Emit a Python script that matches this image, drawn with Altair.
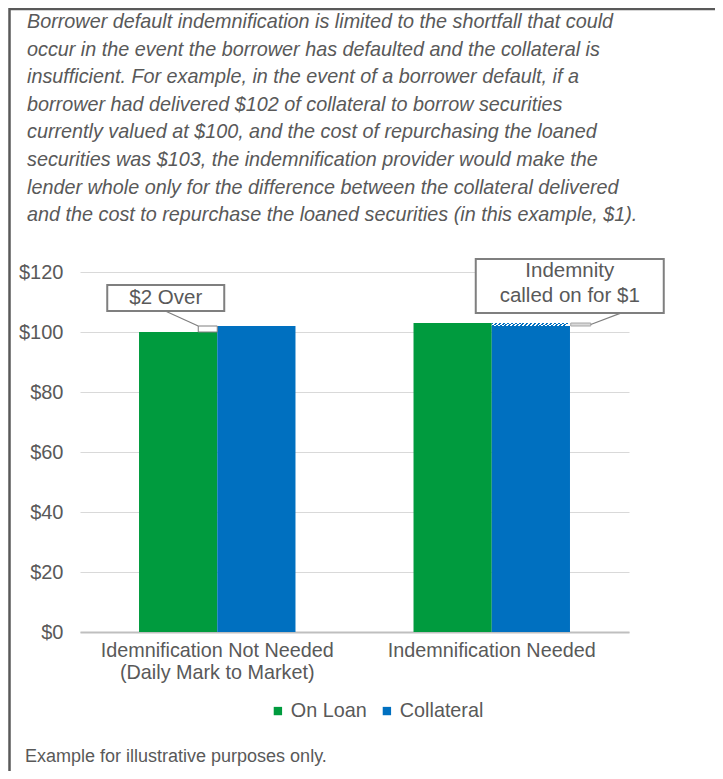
import altair as alt
import pandas as pd

# ---------------- data ----------------
categories = ["Idemnification Not Needed\n(Daily Mark to Market)", "Indemnification Needed"]
series = ["On Loan", "Collateral"]
on_loan = [100, 103]
collateral = [102, 102]
y_ticks = [0, 20, 40, 60, 80, 100, 120]

# portions highlighted by the callouts
over_cat = [categories[0]]
over_from = [100]
over_to = [102]
shortfall_cat = [categories[1]]
shortfall_from = [102]
shortfall_to = [103]

paragraph = [
    "Borrower default indemnification is limited to the shortfall that could",
    "occur in the event the borrower  has defaulted and the collateral is",
    "insufficient.  For example, in the event of a borrower default, if a",
    "borrower  had delivered $102 of collateral to borrow securities",
    "currently valued at $100, and the cost of repurchasing the loaned",
    "securities was $103, the indemnification provider would make the",
    "lender whole only for the difference between the collateral delivered",
    "and the cost to repurchase the loaned securities (in this example, $1).",
]
footer = "Example for illustrative purposes only."
callout1 = "$2 Over"
callout2 = "Indemnity\ncalled on for $1"

# ---------------- style ----------------
FONT = "Liberation Sans, Arial"
GREY = "#595959"
colors = ["#009B3E", "#0070C0"]

rows = []
for c, a, b in zip(categories, on_loan, collateral):
    rows.append({"cat": c, "series": series[0], "value": a})
    rows.append({"cat": c, "series": series[1], "value": b})
df = pd.DataFrame(rows)

xs = alt.Scale(domain=categories, paddingInner=0.43, paddingOuter=0.215)
ys = alt.Scale(domain=[0, 120], nice=False)

X = alt.X("cat:N", scale=xs, sort=categories,
          axis=alt.Axis(title=None, labelAngle=0, ticks=False, grid=False,
                        domainColor="#bfbfbf", domainWidth=2,
                        labelPadding=8, labelFont=FONT, labelFontSize=19.8,
                        labelLineHeight=22, labelColor=GREY, labelLimit=400,
                        labelExpr="split(datum.label, '\\n')"))

bars = alt.Chart(df).mark_bar().encode(
    x=X,
    xOffset=alt.XOffset("series:N", sort=series, scale=alt.Scale(domain=series, paddingInner=0, paddingOuter=0)),
    y=alt.Y("value:Q", scale=ys,
            axis=alt.Axis(title=None, values=y_ticks, format="$.0f", grid=True,
                          gridColor="#d9d9d9", gridWidth=1, domain=False, ticks=False,
                          labelPadding=17, labelFont=FONT, labelFontSize=20,
                          labelColor=GREY)),
    color=alt.Color("series:N", sort=series,
                    scale=alt.Scale(domain=series, range=colors),
                    legend=alt.Legend(orient="none", legendX=188, legendY=429,
                                      direction="horizontal", title=None,
                                      symbolType="square", symbolSize=70,
                                      symbolStrokeWidth=0, labelFont=FONT,
                                      labelFontSize=19.8, labelColor=GREY,
                                      columnPadding=10, labelOffset=3, padding=0)),
)

# hatched shortfall on the collateral bar
n = 20
stops = []
for i in range(n):
    stops.append(alt.GradientStop(offset=i / n, color="#0070C0"))
    stops.append(alt.GradientStop(offset=(i + 0.5) / n, color="#0070C0"))
    stops.append(alt.GradientStop(offset=(i + 0.5) / n, color="#ffffff"))
    stops.append(alt.GradientStop(offset=(i + 1) / n, color="#ffffff"))
hatch_fill = alt.LinearGradient(gradient="linear", stops=stops, x1=0, y1=0, x2=1, y2=0.05)

sf = pd.DataFrame({"cat": shortfall_cat, "series": [series[1]], "lo": shortfall_from, "hi": shortfall_to})
hatch = alt.Chart(sf).mark_bar(fill=hatch_fill).encode(
    x=alt.X("cat:N", scale=xs, sort=categories),
    xOffset=alt.XOffset("series:N", sort=series),
    y=alt.Y("lo:Q", scale=ys),
    y2="hi:Q",
)

ov = pd.DataFrame({"cat": over_cat, "lo": over_from, "hi": over_to})
over_rect = alt.Chart(ov).mark_bar(width=19, xOffset=-9.5, fill="white",
                                   stroke="#7f7f7f", strokeWidth=1).encode(
    x=alt.X("cat:N", scale=xs, sort=categories), y=alt.Y("lo:Q", scale=ys), y2="hi:Q")

end_rect = alt.Chart(sf).mark_bar(width=20, xOffset=89, fill="#d9d9d9",
                                  stroke="#a6a6a6", strokeWidth=1).encode(
    x=alt.X("cat:N", scale=xs, sort=categories), y=alt.Y("lo:Q", scale=ys), y2="hi:Q")

# callout boxes
box1 = alt.Chart(pd.DataFrame({"cat": [categories[0]], "top": [115.7], "bot": [107.0]})).mark_bar(
    width=117, xOffset=-51.5, fill="white", stroke="#7f7f7f", strokeWidth=2).encode(
    x=alt.X("cat:N", scale=xs, sort=categories), y=alt.Y("bot:Q", scale=ys), y2="top:Q")
box2 = alt.Chart(pd.DataFrame({"cat": [categories[1]], "top": [124.3], "bot": [106.3]})).mark_bar(
    width=188, xOffset=78, fill="white", stroke="#7f7f7f", strokeWidth=2).encode(
    x=alt.X("cat:N", scale=xs, sort=categories), y=alt.Y("bot:Q", scale=ys), y2="top:Q")

t1 = alt.Chart(pd.DataFrame({"cat": [categories[0]], "y": [111.3], "t": [callout1]})).mark_text(
    xOffset=-51.5, font=FONT, fontSize=20.5, color=GREY, baseline="middle").encode(
    x=alt.X("cat:N", scale=xs, sort=categories), y=alt.Y("y:Q", scale=ys), text="t:N")
t2 = alt.Chart(pd.DataFrame({"cat": [categories[1]], "y": [120.3], "t": [callout2]})).mark_text(
    xOffset=78, font=FONT, fontSize=20.5, color=GREY, baseline="middle", lineBreak="\n",
    lineHeight=25).encode(
    x=alt.X("cat:N", scale=xs, sort=categories), y=alt.Y("y:Q", scale=ys), text="t:N")

lead1 = alt.Chart(pd.DataFrame({"cat": [categories[0]], "a": [107.0], "b": [102.0]})).mark_rule(
    xOffset=-52, x2Offset=-19, color="#7f7f7f", strokeWidth=1.2).encode(
    x=alt.X("cat:N", scale=xs, sort=categories), x2="cat:N",
    y=alt.Y("a:Q", scale=ys), y2="b:Q")
lead2 = alt.Chart(pd.DataFrame({"cat": [categories[1]], "a": [106.3], "b": [102.5]})).mark_rule(
    xOffset=129, x2Offset=99, color="#7f7f7f", strokeWidth=1.2).encode(
    x=alt.X("cat:N", scale=xs, sort=categories), x2="cat:N",
    y=alt.Y("a:Q", scale=ys), y2="b:Q")

para = alt.Chart(pd.DataFrame({"t": ["\n".join(paragraph)]})).mark_text(
    align="left", baseline="middle", font=FONT, fontSize=19.8, fontStyle="italic",
    color=GREY, lineBreak="\n", lineHeight=27.6).encode(
    x=alt.value(-53), y=alt.value(-250), text="t:N")

foot = alt.Chart(pd.DataFrame({"t": [footer]})).mark_text(
    align="left", baseline="middle", font=FONT, fontSize=18, color=GREY).encode(
    x=alt.value(-55), y=alt.value(485), text="t:N")

border_top = alt.Chart(pd.DataFrame({"k": [0]})).mark_rule(color="#595959", strokeWidth=2.5).encode(
    x=alt.value(-71), x2=alt.value(640), y=alt.value(-263))
border_left = alt.Chart(pd.DataFrame({"k": [0]})).mark_rule(color="#595959", strokeWidth=2.5).encode(
    x=alt.value(-70.5), y=alt.value(-264), y2=alt.value(500))

chart = alt.layer(
    bars, hatch, over_rect, end_rect, lead1, lead2, box1, box2, t1, t2,
    para, foot, border_top, border_left
).properties(
    width=549, height=360,
    autosize=alt.AutoSizeParams(type="none"),
    padding={"left": 72, "top": 264, "right": 86, "bottom": 139},
).configure_view(stroke=None)

chart.save("out.html", embed_options={"renderer": "svg", "actions": False})
